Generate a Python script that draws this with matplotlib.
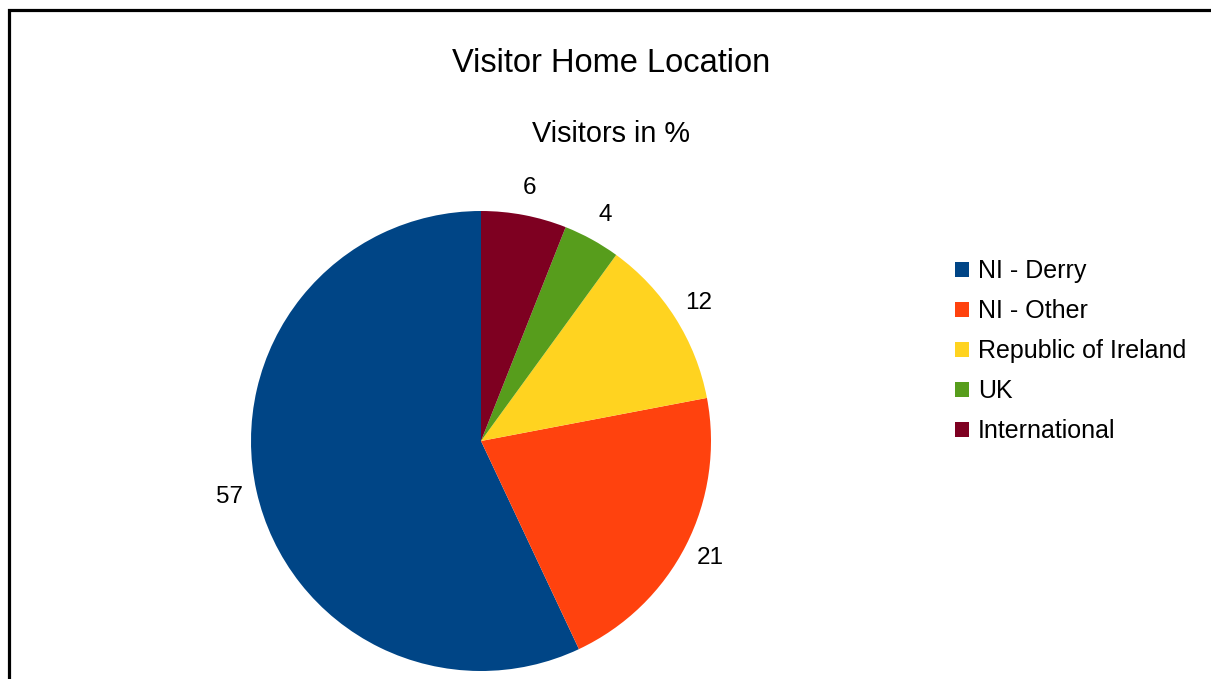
import matplotlib.pyplot as plt
from matplotlib.patches import Rectangle

plt.rcParams['font.family'] = ['Liberation Sans', 'DejaVu Sans']

locations = ["NI - Derry", "NI - Other", "Republic of Ireland", "UK", "International"]
visitors = [57, 21, 12, 4, 6]
colors = ["#004586", "#ff420e", "#ffd320", "#579d1c", "#7e0021"]

W, H = 1211, 679
fig = plt.figure(figsize=(W / 100, H / 100), dpi=100)

# outer frame, clipped by the right and bottom edges
fig.patches.append(Rectangle((9.0 / W, -0.1), 1.2, 1 - 10.5 / H + 0.1,
                             transform=fig.transFigure, fill=False,
                             edgecolor="black", linewidth=2.3))

cx, cy, r = 481, 441, 230
ax = fig.add_axes([(cx - r) / W, (H - cy - r) / H, 2 * r / W, 2 * r / H])
wedges, texts, autotexts = ax.pie(
    visitors, colors=colors, startangle=90, counterclock=True,
    radius=1, autopct=lambda p: f"{p:.0f}", pctdistance=1.12,
    wedgeprops=dict(linewidth=0),
    textprops=dict(fontsize=17.5, color="black"),
)
ax.set_xlim(-1, 1)
ax.set_ylim(-1, 1)
ax.set_aspect("auto")
ax.axis("off")

fig.text(611 / W, 1 - 63 / H, "Visitor Home Location", ha="center", va="center", fontsize=23.5)
fig.text(610.5 / W, 1 - 134 / H, "Visitors in %", ha="center", va="center", fontsize=20.8)

fig.legend(wedges, locations, loc="center left", bbox_to_anchor=(955 / W, 1 - 351 / H),
           frameon=False, fontsize=18, handlelength=0.56, handleheight=0.56,
           handletextpad=0.36, labelspacing=0.64, borderpad=0, borderaxespad=0)

fig.savefig("out.png", dpi=100)
